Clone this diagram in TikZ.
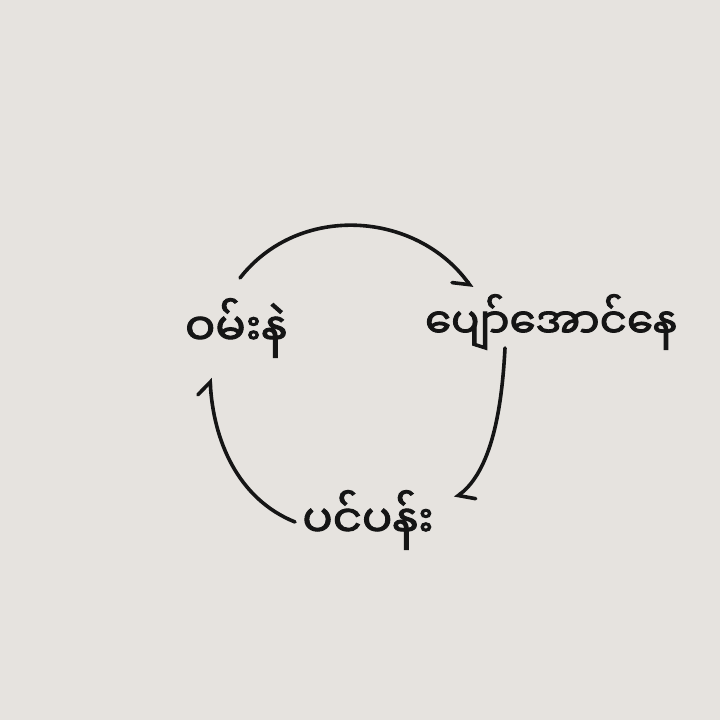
\documentclass[tikz,border=0pt]{standalone}
\usepackage{fontspec}
\newfontfamily\mya[Script=Myanmar,FakeBold=2.2]{Noto Sans Myanmar UI}
\usetikzlibrary{arrows.meta}
\definecolor{paper}{HTML}{E6E3DF}
\definecolor{ink}{HTML}{151515}
\tikzset{
  lbl/.style={font=\mya\fontsize{45}{50}\selectfont, text=ink, inner sep=0pt},
  arc/.style={draw=ink, line width=3.6pt, line cap=round},
  tipL/.style={-{Straight Barb[left,length=12pt,width=26pt,line cap=round]}},
  tipR/.style={-{Straight Barb[right,length=12pt,width=26pt,line cap=round]}}
}
\begin{document}
\begin{tikzpicture}[x=1pt,y=1pt]
\fill[paper] (0,0) rectangle (720,720);
\useasboundingbox (0,0) rectangle (720,720);
\node[lbl] (a) at (236,392) {ဝမ်းနဲ};
\node[lbl,font=\mya\fontsize{42}{48}\selectfont] (b) at (551,398) {ပျော်အောင်နေ};
\node[lbl] (c) at (368,200) {ပင်ပန်း};
\draw[arc,tipR] ([shift={(4,50)}]a.center) to[out=52,in=126,looseness=1.05] ([shift={(-79,34)}]b.center);
\draw[arc,tipL] ([shift={(-46,-26)}]b.center) to[out=-93,in=37,looseness=0.8] ([shift={(87,22)}]c.center);
\draw[arc,tipL] ([shift={(-73,-2)}]c.center) to[out=158,in=-87,looseness=0.95] ([shift={(-26,-50)}]a.center);
\end{tikzpicture}
\end{document}
